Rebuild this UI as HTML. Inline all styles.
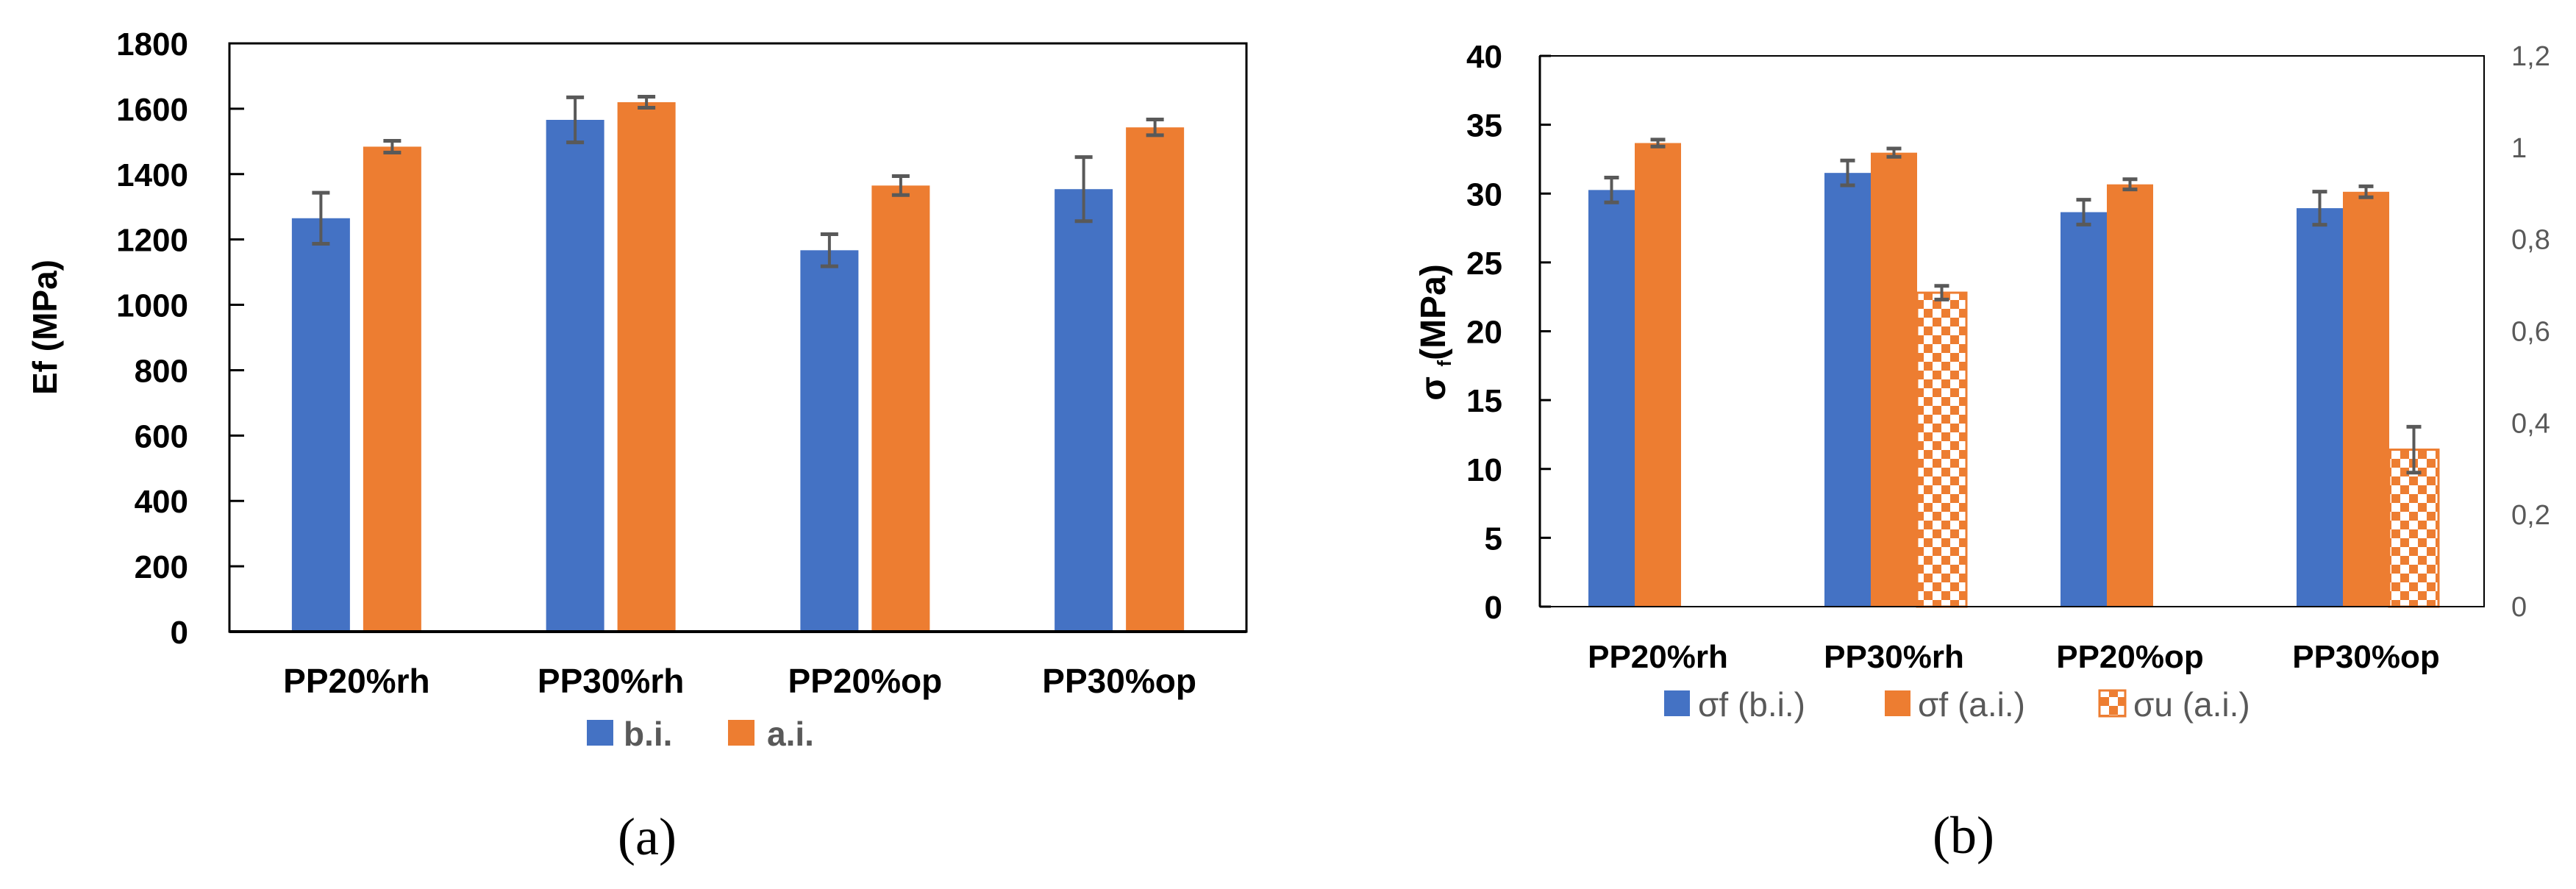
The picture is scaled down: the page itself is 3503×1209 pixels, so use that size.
<!DOCTYPE html>
<html><head><meta charset="utf-8"><style>
html,body{margin:0;padding:0;background:#fff;}
svg{display:block;}
text{font-family:"Liberation Sans",sans-serif;}
</style></head><body>
<svg id="svg" width="3503" height="1209" viewBox="0 0 3503 1209" xmlns="http://www.w3.org/2000/svg">
<defs>
<pattern id="checker" width="24" height="24" patternUnits="userSpaceOnUse">
<rect width="24" height="24" fill="#ED7D31"/>
<rect x="0" y="0" width="12" height="12" fill="#fff"/>
<rect x="12" y="12" width="12" height="12" fill="#fff"/>
</pattern>
</defs>
<g id="chartA"></g>
<g id="chartB"></g>
</svg>
<script>
const categories = ["PP20%rh","PP30%rh","PP20%op","PP30%op"];
const efBI = [1265,1566,1167,1354];
const efBIerr = [78,69,49,98];
const efAI = [1484,1620,1365,1543];
const efAIerr = [18,17,29,24];
const efTicks = [0,200,400,600,800,1000,1200,1400,1600,1800];

const sfBI = [30.26,31.5,28.65,28.94];
const sfBIerr = [0.9,0.9,0.9,1.2];
const sfAI = [33.67,32.97,30.67,30.13];
const sfAIerr = [0.25,0.3,0.37,0.4];
const suAI = [null,0.684,null,0.342];
const suAIerr = [null,0.015,null,0.05];
const sfTicks = [0,5,10,15,20,25,30,35,40];
const suTicks = ["0","0,2","0,4","0,6","0,8","1","1,2"];
const suTickVals = [0,0.2,0.4,0.6,0.8,1,1.2];

const NS="http://www.w3.org/2000/svg";
function mk(parent,tag,attrs,txt){const e=document.createElementNS(NS,tag);for(const k in attrs)e.setAttribute(k,attrs[k]);if(txt!==undefined)e.textContent=txt;parent.appendChild(e);return e;}
const BLUE="#4472C4",ORANGE="#ED7D31",ERR="#595959";

function errBar(g,x,y,e,yS,cap){
  const l=mk(g,'g',{});
  
  
  mk(l,'line',{x1:x,x2:x,y1:yS(y+e),y2:yS(y-e),stroke:ERR,'stroke-width':4});
  mk(l,'line',{x1:x-cap,x2:x+cap,y1:yS(y+e),y2:yS(y+e),stroke:ERR,'stroke-width':5});
  mk(l,'line',{x1:x-cap,x2:x+cap,y1:yS(y-e),y2:yS(y-e),stroke:ERR,'stroke-width':5});
}

// Chart A
(function(){
  const g=document.getElementById('chartA');
  const L=312,R=1695,T=59,B=859,max=1800;
  const yS=v=>B-(v/max)*(B-T);
  const cw=(R-L)/categories.length;
  categories.forEach((c,i)=>{
    const cx=L+cw*(i+0.5);
    const b=mk(g,'rect',{x:cx-88,y:yS(efBI[i]),width:79,height:B-yS(efBI[i]),fill:BLUE});
    
    
    const o=mk(g,'rect',{x:cx+9,y:yS(efAI[i]),width:79,height:B-yS(efAI[i]),fill:ORANGE});
    
    
    errBar(g,cx-48.5,efBI[i],efBIerr[i],yS,12);
    errBar(g,cx+48.5,efAI[i],efAIerr[i],yS,12);
    const t=mk(g,'text',{x:cx,y:942,'text-anchor':'middle','font-size':46,'font-weight':'bold',fill:'#000'},c);
    
    
  });
  mk(g,'rect',{x:L,y:T,width:R-L,height:B-T,fill:'none',stroke:'#000','stroke-width':3});
  mk(g,'line',{x1:L,x2:R,y1:B,y2:B,stroke:'#000','stroke-width':4});
  efTicks.forEach(v=>{
    mk(g,'line',{x1:L,x2:L+20,y1:yS(v),y2:yS(v),stroke:'#000','stroke-width':3});
    const t=mk(g,'text',{x:256,y:yS(v)+16,'text-anchor':'end','font-size':44,'font-weight':'bold',fill:'#000'},String(v));
    
    
  });
  const yt=mk(g,'text',{x:0,y:0,transform:'translate(77,445) rotate(-90)','text-anchor':'middle','font-size':46,'font-weight':'bold',fill:'#000'},'Ef (MPa)');
  
  
  const lg=mk(g,'g',{});
  
  
  mk(lg,'rect',{x:798,y:979,width:36,height:35,fill:BLUE});
  mk(lg,'text',{x:848,y:1014,'font-size':46,'font-weight':'bold',fill:ERR},'b.i.');
  mk(lg,'rect',{x:990,y:979,width:36,height:35,fill:ORANGE});
  mk(lg,'text',{x:1043,y:1014,'font-size':46,'font-weight':'bold',fill:ERR},'a.i.');
  const p=mk(g,'text',{x:880,y:1162,'text-anchor':'middle','font-size':72,fill:'#000',style:'font-family:"Liberation Serif",serif'},'(a)');
  
  
})();

// Chart B
(function(){
  const g=document.getElementById('chartB');
  const L=2094,R=3378,T=76,B=825,max=40,max2=1.2;
  const yS=v=>B-(v/max)*(B-T);
  const yS2=v=>B-(v/max2)*(B-T);
  const cw=(R-L)/categories.length;
  const bw=63;
  categories.forEach((c,i)=>{
    const cx=L+cw*(i+0.5);
    const b=mk(g,'rect',{x:cx-bw/2-bw,y:yS(sfBI[i]),width:bw,height:B-yS(sfBI[i]),fill:BLUE});
    
    
    const o=mk(g,'rect',{x:cx-bw/2,y:yS(sfAI[i]),width:bw,height:B-yS(sfAI[i]),fill:ORANGE});
    
    
    errBar(g,cx-bw,sfBI[i],sfBIerr[i],yS,10);
    errBar(g,cx,sfAI[i],sfAIerr[i],yS,10);
    if(suAI[i]!==null){
      const u=mk(g,'rect',{x:cx+bw/2,y:yS2(suAI[i]),width:bw+4,height:B-yS2(suAI[i]),fill:'url(#checker)',stroke:ORANGE,'stroke-width':3});
      
      
      errBar(g,cx+bw+2,suAI[i],suAIerr[i],yS2,10);
    }
    const t=mk(g,'text',{x:cx,y:908,'text-anchor':'middle','font-size':44,'font-weight':'bold',fill:'#000'},c);
    
    
  });
  mk(g,'rect',{x:L,y:T,width:R-L,height:B-T,fill:'none',stroke:'#000','stroke-width':2});
  mk(g,'line',{x1:L,x2:L,y1:T,y2:B,stroke:'#000','stroke-width':3});
  sfTicks.forEach(v=>{
    mk(g,'line',{x1:L,x2:L+15,y1:yS(v),y2:yS(v),stroke:'#000','stroke-width':3});
    const t=mk(g,'text',{x:2043,y:yS(v)+16,'text-anchor':'end','font-size':44,'font-weight':'bold',fill:'#000'},String(v));
    
    
  });
  suTickVals.forEach((v,k)=>{
    const t=mk(g,'text',{x:3415,y:yS2(v)+13,'font-size':38,fill:ERR},suTicks[k]);
    
    
  });
  const yt=mk(g,'text',{x:0,y:0,transform:'translate(1965,452) rotate(-90)','text-anchor':'middle','font-size':48,'font-weight':'bold',fill:'#000'});
  
  
  mk(yt,'tspan',{},'σ ');
  mk(yt,'tspan',{'font-size':26,dy:8},'f');
  mk(yt,'tspan',{dy:-8},'(MPa)');
  const lg=mk(g,'g',{});
  
  
  mk(lg,'rect',{x:2263,y:939,width:35,height:35,fill:BLUE});
  mk(lg,'text',{x:2309,y:974,'font-size':46,fill:ERR,'xml:space':'preserve'},'σf  (b.i.)');
  mk(lg,'rect',{x:2563,y:939,width:35,height:35,fill:ORANGE});
  mk(lg,'text',{x:2608,y:974,'font-size':46,fill:ERR,'xml:space':'preserve'},'σf  (a.i.)');
  mk(lg,'rect',{x:2855,y:939,width:35,height:35,fill:'url(#checker)',stroke:ORANGE,'stroke-width':3});
  mk(lg,'text',{x:2901,y:974,'font-size':46,fill:ERR},'σu (a.i.)');
  const p=mk(g,'text',{x:2670,y:1160,'text-anchor':'middle','font-size':72,fill:'#000',style:'font-family:"Liberation Serif",serif'},'(b)');
  
  
})();
</script>
</body></html>
